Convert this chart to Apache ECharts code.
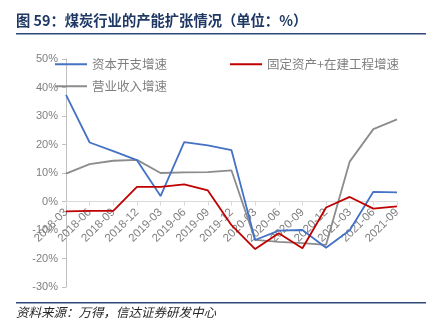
<!DOCTYPE html>
<html><head><meta charset="utf-8">
<script src="https://cdn.jsdelivr.net/npm/echarts@6/dist/echarts.min.js"></script>
<style>html,body{margin:0;padding:0;background:#fff}#c{width:438px;height:336px}</style>
</head><body><div id="c"></div>
<script>
const categories = ['2018-03','2018-06','2018-09','2018-12','2019-03','2019-06','2019-09','2019-12','2020-03','2020-06','2020-09','2020-12','2021-03','2021-06','2021-09'];
const capexGrowth = [37.4, 20.7, 17.7, 14.5, 1.9, 20.8, 19.7, 18.0, -13.5, -10.2, -10.0, -16.2, -10.1, 3.4, 3.2];
const fixedAssetGrowth = [-3.5, -3.3, -3.3, 5.1, 5.1, 6.0, 3.9, -8.3, -16.7, -11.1, -16.4, -2.1, 1.6, -2.5, -1.7];
const revenueGrowth = [9.8, 13.1, 14.3, 14.6, 10.0, 10.2, 10.3, 10.9, -13.5, -14.2, -14.6, -15.2, 14.0, 25.4, 28.8];
const yTicks = {min: -30, max: 50, interval: 10};
const names = ['资本开支增速', '固定资产+在建工程增速', '营业收入增速'];
const titleText = '图 59：煤炭行业的产能扩张情况（单位：%）';
const sourceText = '资料来源：万得，信达证券研发中心';

const chart = echarts.init(document.getElementById('c'), null, {renderer: 'canvas'});
const cjk = '"Noto Sans CJK SC", "Noto Sans", sans-serif';
const gridTop = 59, gridBottom = 49, H = 336;
const plotH = H - gridTop - gridBottom;
// distance from the bottom of the grid to the zero line, via the y scale
const zeroOffset = plotH * (0 - yTicks.min) / (yTicks.max - yTicks.min);
const legendBase = {
  itemWidth: 32, itemHeight: 10, itemGap: 5, icon: 'path://M0,4L32,4L32,6L0,6Z',
  textStyle: {color: '#7f7f7f', fontSize: 12.5, fontFamily: cjk}
};
chart.setOption({
  animation: false,
  textStyle: {fontFamily: cjk},
  grid: {left: 66, right: 41, top: gridTop, bottom: gridBottom, containLabel: false},
  legend: [
    Object.assign({}, legendBase, {data: [names[0]], left: 50, top: 53}),
    Object.assign({}, legendBase, {data: [names[1]], left: 225, top: 53}),
    Object.assign({}, legendBase, {data: [names[2]], left: 50, top: 75})
  ],
  xAxis: {
    type: 'category', data: categories, boundaryGap: false, position: 'bottom', offset: -zeroOffset,
    axisLine: {onZero: false, lineStyle: {color: '#d9d9d9', width: 1}},
    axisTick: {show: true, length: 4, lineStyle: {color: '#d9d9d9'}},
    axisLabel: {rotate: 45, color: '#7f7f7f', fontSize: 11.5, fontFamily: 'Liberation Sans, Arial, sans-serif', margin: 9, interval: 0}
  },
  yAxis: {
    type: 'value', min: yTicks.min, max: yTicks.max, interval: yTicks.interval,
    axisLine: {show: true, lineStyle: {color: '#bfbfbf', width: 1}},
    axisTick: {show: true, length: 4, lineStyle: {color: '#bfbfbf'}},
    splitLine: {show: false},
    axisLabel: {formatter: v => v + '%', color: '#7f7f7f', fontSize: 11, fontFamily: 'Liberation Sans, Arial, sans-serif', margin: 8}
  },
  series: [
    {name: names[0], type: 'line', data: capexGrowth, showSymbol: false, lineStyle: {color: '#4472C4', width: 1.8}, itemStyle: {color: '#4472C4'}, z: 3},
    {name: names[1], type: 'line', data: fixedAssetGrowth, showSymbol: false, lineStyle: {color: '#C00000', width: 1.8}, itemStyle: {color: '#C00000'}, z: 4},
    {name: names[2], type: 'line', data: revenueGrowth, showSymbol: false, lineStyle: {color: '#8c8c8c', width: 1.8}, itemStyle: {color: '#8c8c8c'}, z: 2}
  ],
  graphic: [
    {type: 'text', left: 16, top: 13, style: {text: titleText, fill: '#1f3864', font: 'bold 14.3px "Noto Sans CJK SC", sans-serif'}},
    {type: 'rect', shape: {x: 16, y: 33, width: 410, height: 1.5}, style: {fill: '#2f4a7a'}},
    {type: 'rect', shape: {x: 16, y: 302, width: 410, height: 1.5}, style: {fill: '#2f4a7a'}},
    {type: 'text', left: 16, top: 306, style: {text: sourceText, fill: '#262626', font: 'italic 12.5px "Noto Sans CJK SC", sans-serif'}}
  ]
});
</script></body></html>
